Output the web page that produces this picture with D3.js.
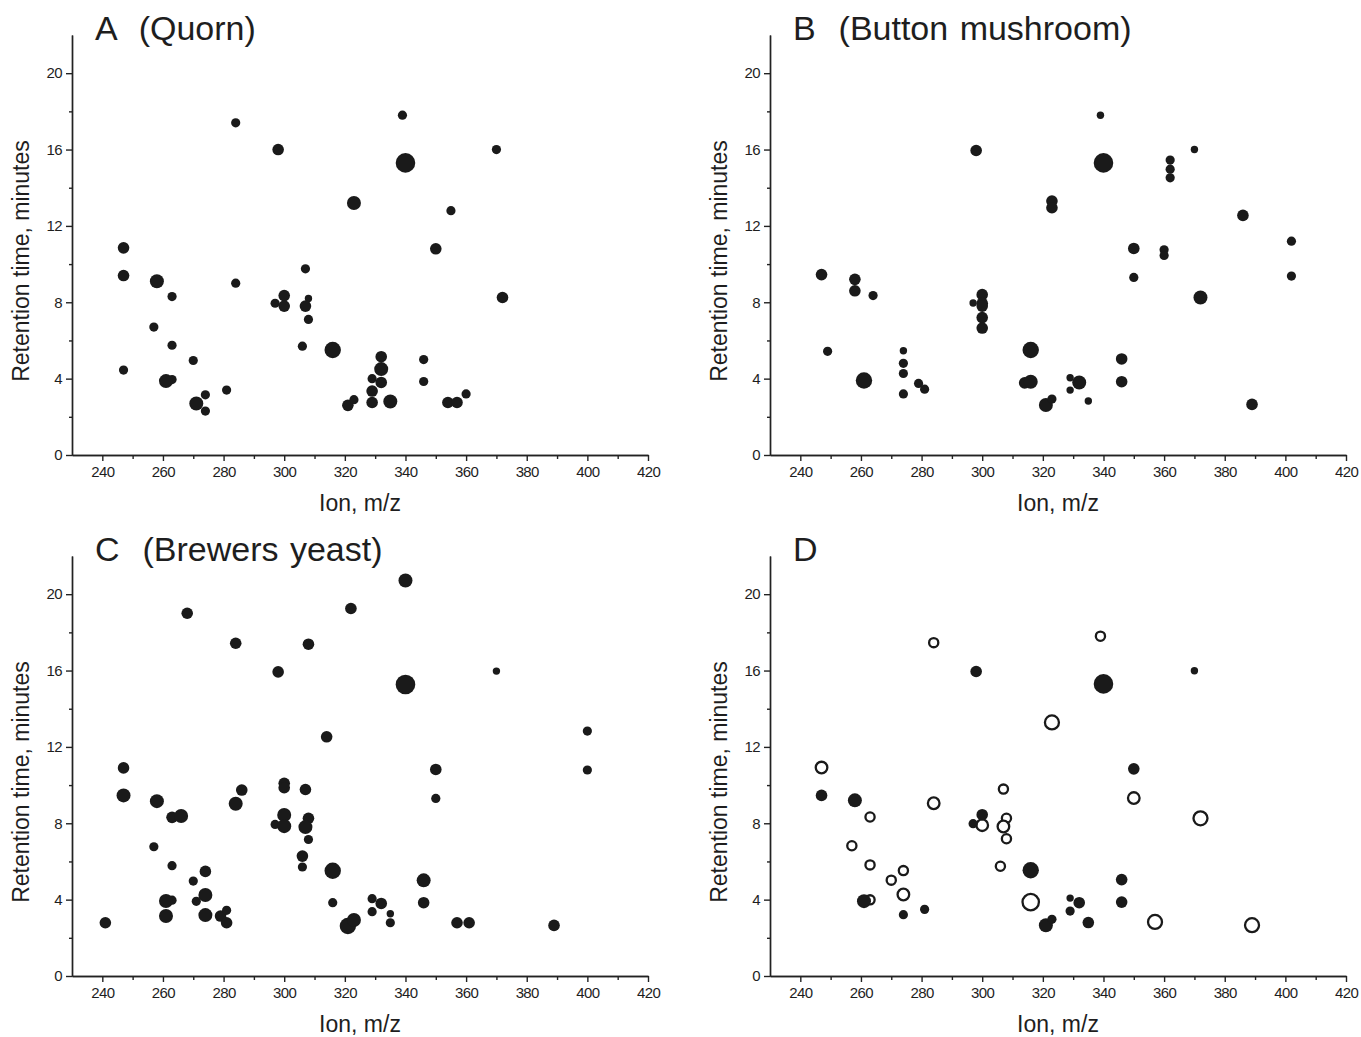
<!DOCTYPE html>
<html>
<head>
<meta charset="utf-8">
<script src="https://cdn.jsdelivr.net/npm/d3@7"></script>
<style>
  body { margin: 0; background: #fff; }
  text { font-family: "Liberation Sans", Arial, sans-serif; fill: #1e1e1e; }
</style>
</head>
<body>
<div id="chart"></div>
<script>
// DATA  [m/z, retention time (min), abundance class 1-6]
// ----------------------------
const quorn = [
  [247, 10.85, 3], [247, 9.4, 3], [247, 4.45, 2], [257, 6.7, 2], [258, 9.1, 4],
  [263, 8.3, 2], [263, 5.75, 2], [263, 3.95, 2], [261, 3.87, 4], [270, 4.95, 2],
  [271, 2.7, 4], [274, 3.15, 2], [274, 2.3, 2], [281, 3.4, 2], [284, 17.4, 2],
  [284, 9.0, 2], [297, 7.95, 2], [298, 16.0, 3], [300, 8.35, 3], [300, 7.8, 3],
  [306, 5.7, 2], [307, 9.75, 2], [308, 8.2, 1], [307, 7.8, 3], [308, 7.1, 2],
  [316, 5.5, 5], [321, 2.6, 3], [323, 13.2, 4], [323, 2.9, 2], [329, 4.0, 2],
  [329, 3.35, 3], [329, 2.75, 3], [332, 5.15, 3], [332, 4.5, 4], [332, 3.8, 3],
  [335, 2.8, 4], [339, 17.8, 2], [340, 15.3, 6], [346, 5.0, 2], [346, 3.85, 2],
  [350, 10.8, 3], [354, 2.75, 3], [355, 12.8, 2], [357, 2.75, 3], [360, 3.2, 2],
  [370, 16.0, 2], [372, 8.25, 3]
]

const buttonMushroom = [
  [247, 9.45, 3], [249, 5.43, 2], [258, 9.2, 3], [258, 8.6, 3], [264, 8.35, 2],
  [261, 3.9, 5], [274, 5.46, 1], [274, 4.8, 2], [274, 4.27, 2], [274, 3.2, 2],
  [279, 3.75, 2], [281, 3.45, 2], [297, 7.96, 1], [298, 15.95, 3], [300, 8.4, 3],
  [300, 7.95, 3], [300, 7.8, 3], [300, 7.2, 3], [300, 6.65, 3], [314, 3.78, 3],
  [316, 5.5, 5], [316, 3.84, 4], [321, 2.62, 4], [323, 2.93, 2], [323, 13.3, 3],
  [323, 12.95, 3], [329, 4.05, 1], [329, 3.4, 1], [332, 3.8, 4], [335, 2.83, 1],
  [339, 17.8, 1], [340, 15.3, 6], [346, 5.03, 3], [346, 3.84, 3], [350, 10.82, 3],
  [350, 9.3, 2], [360, 10.75, 2], [360, 10.45, 2], [362, 15.45, 2], [362, 14.97, 2],
  [362, 14.52, 2], [370, 16.0, 1], [372, 8.25, 4], [386, 12.55, 3], [389, 2.65, 3],
  [402, 11.2, 2], [402, 9.37, 2]
]

const brewersYeast = [
  [241, 2.79, 3], [247, 10.9, 3], [247, 9.46, 4], [258, 9.16, 4], [257, 6.77, 2],
  [263, 8.31, 3], [266, 8.38, 4], [263, 5.78, 2], [268, 19.0, 3], [263, 3.97, 2],
  [261, 3.93, 4], [261, 3.14, 4], [270, 4.97, 2], [271, 3.91, 2], [274, 5.48, 3],
  [274, 4.24, 4], [274, 3.19, 4], [279, 3.14, 3], [281, 3.44, 2], [281, 2.79, 3],
  [284, 17.43, 3], [284, 9.02, 4], [286, 9.74, 3], [297, 7.94, 2], [298, 15.93, 3],
  [300, 10.09, 3], [300, 9.86, 3], [300, 8.43, 4], [300, 7.85, 4], [306, 6.28, 3],
  [306, 5.71, 2], [307, 9.77, 3], [308, 8.26, 3], [307, 7.8, 4], [308, 7.15, 2],
  [308, 17.38, 3], [314, 12.53, 3], [316, 5.51, 5], [316, 3.84, 2], [321, 2.62, 5],
  [322, 19.25, 3], [323, 2.93, 4], [329, 4.05, 2], [329, 3.37, 2], [332, 3.8, 3],
  [335, 3.26, 1], [335, 2.79, 2], [340, 20.72, 4], [340, 15.27, 6], [346, 5.01, 4],
  [346, 3.84, 3], [350, 10.82, 3], [350, 9.3, 2], [357, 2.79, 3], [361, 2.79, 3],
  [370, 15.97, 1], [389, 2.65, 3], [400, 12.83, 2], [400, 10.79, 2]
]

// panel D: filled vs open markers
const dFilled = [
  [247, 9.46, 3], [258, 9.2, 4], [261, 3.92, 4], [274, 3.21, 2], [281, 3.49, 2],
  [297, 7.98, 2], [298, 15.95, 3], [300, 8.45, 3], [316, 5.54, 5], [321, 2.66, 4],
  [323, 2.97, 2], [329, 4.08, 1], [329, 3.4, 2], [332, 3.84, 3], [335, 2.8, 3],
  [340, 15.3, 6], [346, 5.05, 3], [346, 3.87, 3], [350, 10.85, 3], [370, 15.99, 1]
]
const dOpen = [
  [247, 10.92, 3], [257, 6.82, 2], [263, 8.33, 2], [263, 5.82, 2], [263, 3.99, 2],
  [270, 5.02, 2], [274, 5.52, 2], [274, 4.27, 3], [284, 17.46, 2], [284, 9.05, 3],
  [300, 7.9, 3], [306, 5.75, 2], [307, 9.79, 2], [308, 8.26, 2], [307, 7.83, 3],
  [308, 7.19, 2], [316, 3.87, 5], [323, 13.28, 4], [339, 17.8, 2], [350, 9.32, 3],
  [357, 2.83, 4], [372, 8.26, 4], [389, 2.66, 4]
]

const xMajor = [240, 260, 280, 300, 320, 340, 360, 380, 400, 420]
const xMinor = [250, 270, 290, 310, 330, 350, 370, 390, 410]
const yMajor = [0, 4, 8, 12, 16, 20]
const yMinor = [2, 6, 10, 14, 18]

const panels = [
  { title: 'A  (Quorn)', left: 72, top: 35, filled: quorn, open: [] },
  { title: 'B  (Button mushroom)', left: 770, top: 35, filled: buttonMushroom, open: [] },
  { title: 'C  (Brewers yeast)', left: 72, top: 556, filled: brewersYeast, open: [] },
  { title: 'D', left: 770, top: 556, filled: dFilled, open: dOpen }
]
// ----------------------------

const fullWidth = 1361
const fullHeight = 1037
const width = 576
const height = 420

const svg = d3.select('#chart')
  .append('svg')
    .attr('width', fullWidth)
    .attr('height', fullHeight)

const xScale = d3.scaleLinear().domain([230, 420]).range([0, width])
const yScale = d3.scaleLinear().domain([0, 22]).range([height, 0])
// abundance class -> marker radius
const rScale = d3.scaleLinear().domain([1, 2, 5, 6]).range([3.7, 4.6, 8.2, 9.8])

panels.forEach(p => {
  const g = svg.append('g')
    .attr('transform', `translate(${p.left}, ${p.top})`)

  // minor ticks first, then major axis with labels
  g.append('g')
    .attr('transform', `translate(0, ${height})`)
    .call(d3.axisBottom(xScale).tickValues(xMinor).tickSize(4).tickSizeOuter(0).tickFormat(''))
  g.append('g')
    .attr('transform', `translate(0, ${height})`)
    .call(d3.axisBottom(xScale).tickValues(xMajor).tickSize(6).tickSizeOuter(0).tickPadding(5))

  g.append('g')
    .call(d3.axisLeft(yScale).tickValues(yMinor).tickSize(3).tickSizeOuter(0).tickFormat(''))
  g.append('g')
    .call(d3.axisLeft(yScale).tickValues(yMajor).tickSize(6).tickSizeOuter(0).tickPadding(4))

  g.selectAll('.domain, .tick line')
    .attr('stroke', '#222')
    .attr('stroke-width', 1.4)
  g.selectAll('.tick text')
    .attr('font-size', 15)
    .attr('letter-spacing', -0.6)
    .attr('fill', '#1e1e1e')

  // titles and axis labels
  g.append('text')
    .attr('x', 23)
    .attr('y', 5)
    .style('white-space', 'pre')
    .attr('font-size', 34)
    .attr('word-spacing', 2)
    .text(p.title)

  g.append('text')
    .attr('x', width / 2)
    .attr('y', height + 56)
    .attr('text-anchor', 'middle')
    .attr('font-size', 23)
    .text('Ion, m/z')

  g.append('text')
    .attr('transform', `translate(-43, ${height / 2 + 16}) rotate(-90)`)
    .attr('text-anchor', 'middle')
    .attr('font-size', 23)
    .text('Retention time, minutes')

  // open markers sit under filled ones
  g.selectAll('circle.open')
    .data(p.open)
    .enter()
    .append('circle')
      .attr('class', 'open')
      .attr('cx', d => xScale(d[0]))
      .attr('cy', d => yScale(d[1]))
      .attr('r', d => rScale(d[2]))
      .attr('fill', '#fff')
      .attr('stroke', '#1a1a1a')
      .attr('stroke-width', 2.3)

  g.selectAll('circle.filled')
    .data(p.filled)
    .enter()
    .append('circle')
      .attr('class', 'filled')
      .attr('cx', d => xScale(d[0]))
      .attr('cy', d => yScale(d[1]))
      .attr('r', d => rScale(d[2]))
      .attr('fill', '#1a1a1a')
})
</script>
</body>
</html>
